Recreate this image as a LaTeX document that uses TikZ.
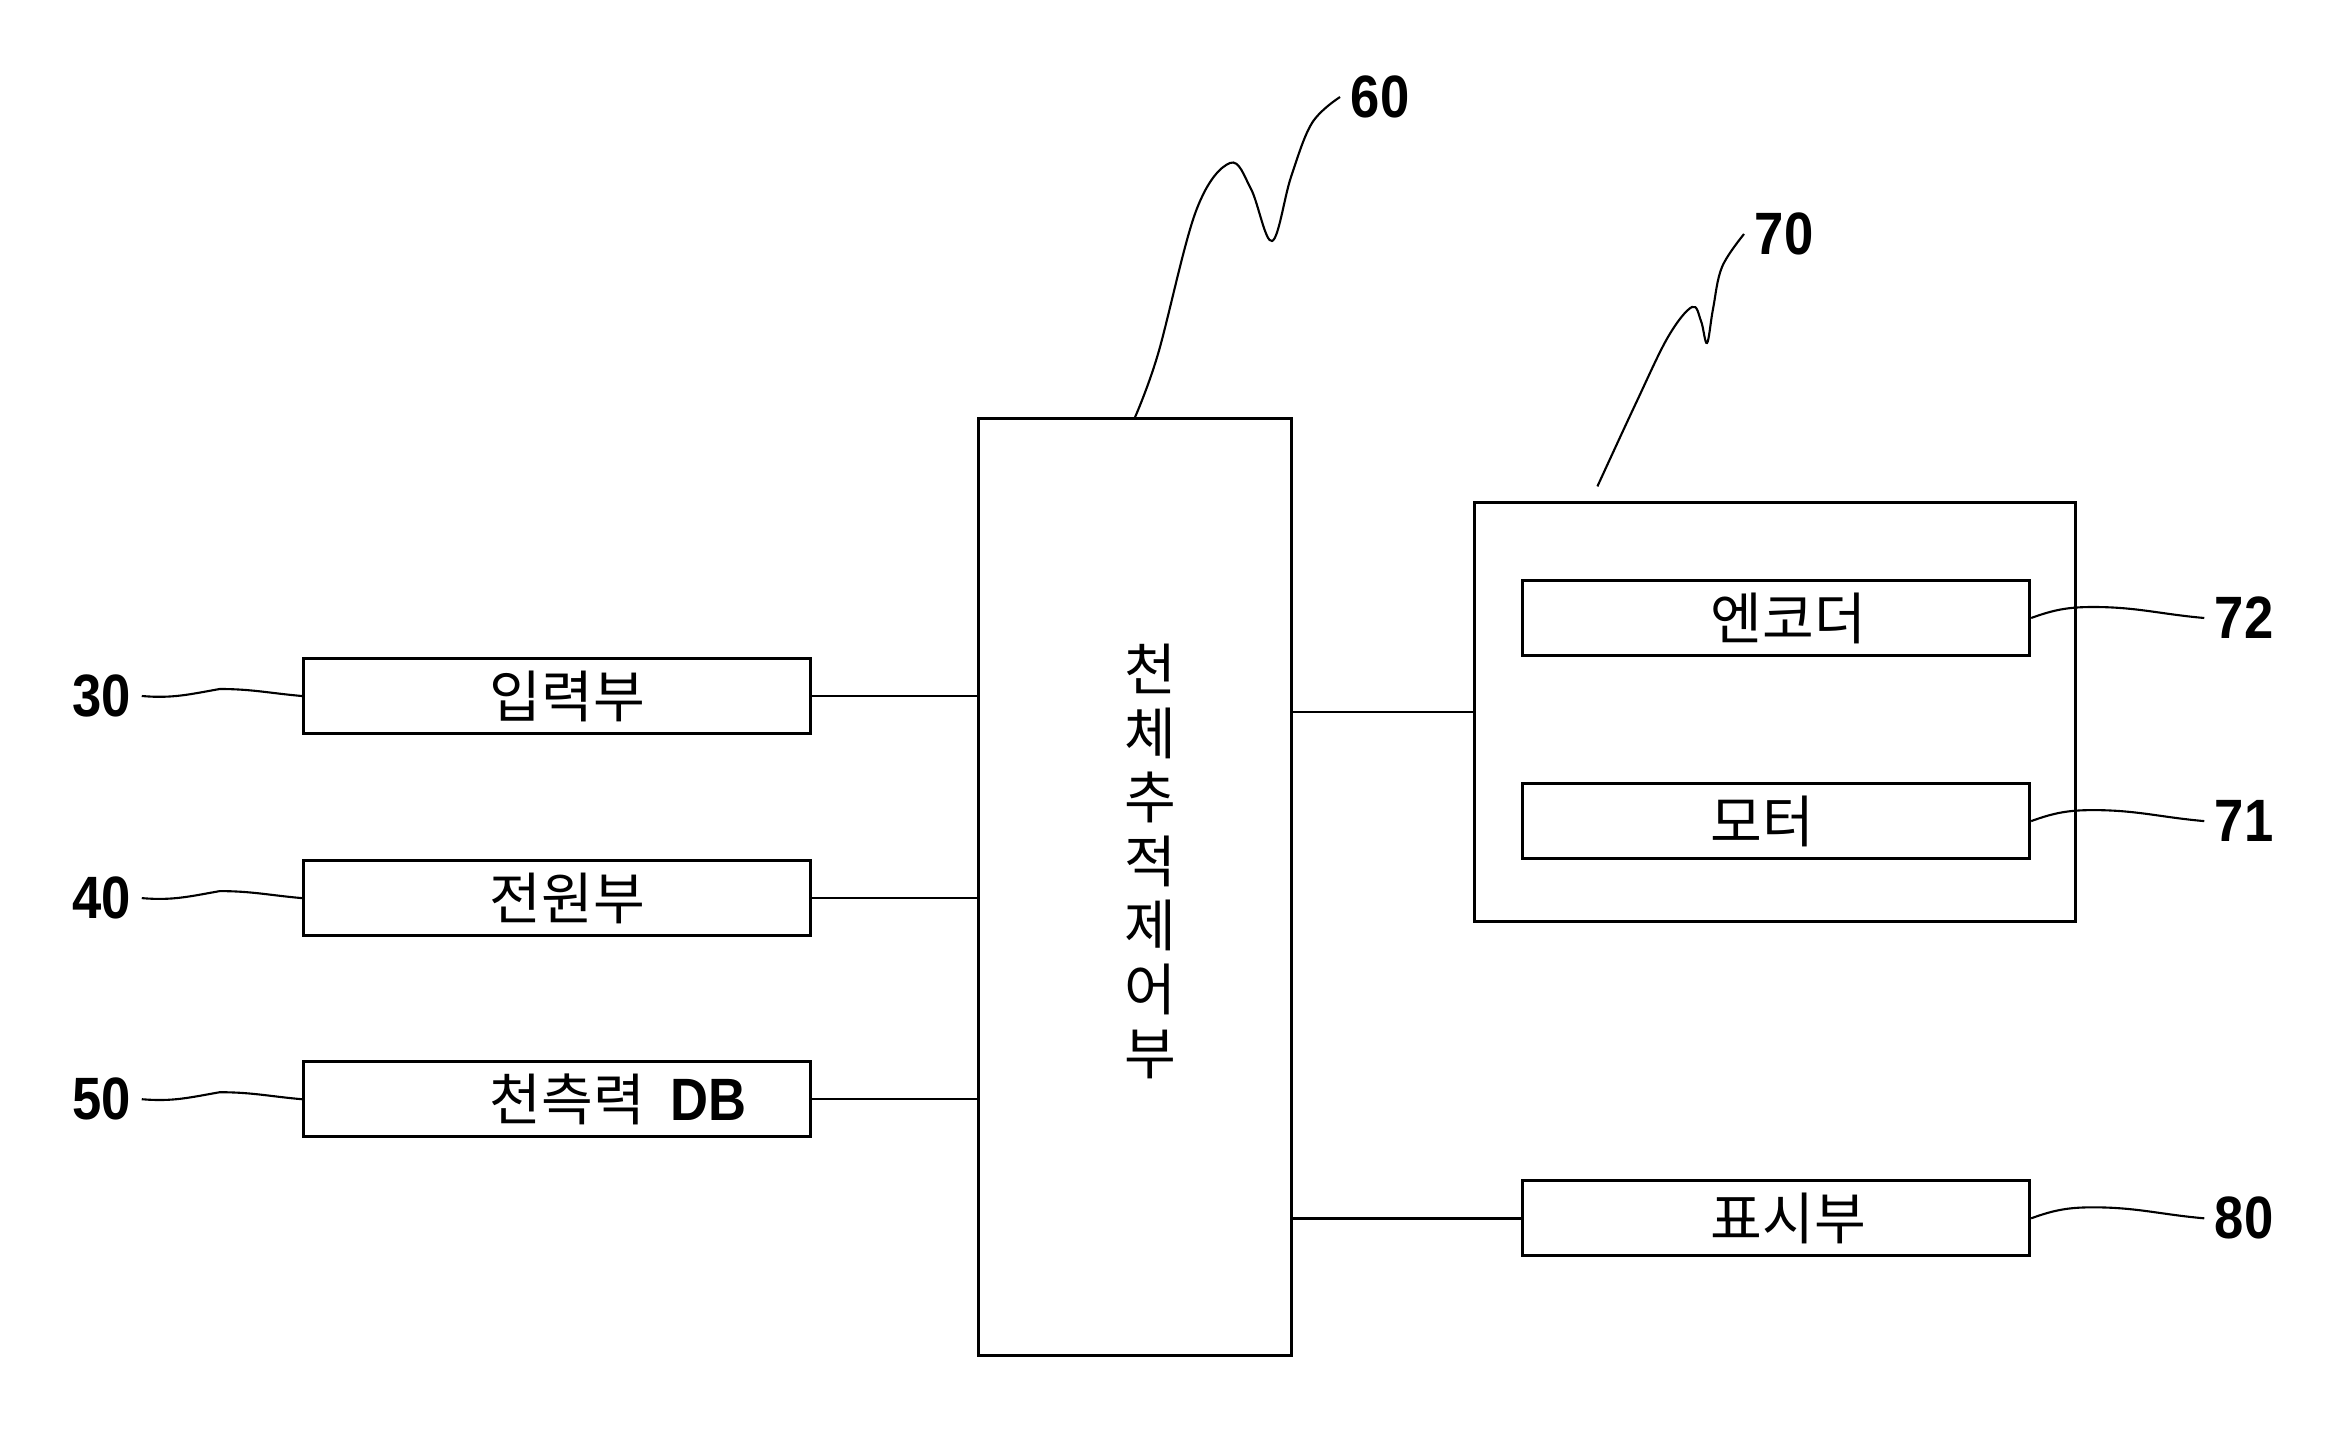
\documentclass[tikz,border=0pt]{standalone}
\usepackage{fontspec}
\setmainfont{Liberation Sans}
\newfontfamily\kr{Noto Sans CJK KR}
\newfontfamily\numfont{Liberation Sans Bold}[FakeStretch=0.88]
\usepackage{tikz}
\usetikzlibrary{positioning}
\tikzstyle{block} = [draw, fill=white, rectangle, line width=0.85pt, inner sep=0pt, minimum width=5.07cm, minimum height=0.75cm]
\tikzstyle{num} = [inner ysep=1pt, inner xsep=0.1cm, font=\fontsize{17}{20}\selectfont\numfont]
\tikzstyle{txt} = [inner sep=0pt, anchor=west, font=\fontsize{16}{18}\selectfont\kr]
\tikzstyle{lead} = [line width=0.6pt]
\tikzstyle{conn} = [line width=0.7pt]

\begin{document}
\begin{tikzpicture}[x=0.01cm, y=0.01cm]
  \useasboundingbox (0,0) rectangle (2348,1429);
  % control unit
  \node[block, minimum width=3.12cm, minimum height=9.36cm] (ctrl) at (1135,542) {};
  \node[font=\fontsize{16}{18.2}\selectfont\kr, align=center, inner sep=0pt] (tctrl) at (1150,568)
    {천\\체\\추\\적\\제\\어\\부};
  % left units
  \node[block] (input) at (557,733) {};
  \node[block, below=1.24cm of input] (power) {};
  \node[block, below=1.23cm of power] (tdb) {};
  \node[txt] (tinput) at ([xshift=1.87cm]input.west) {입력부};
  \node[txt] (tpower) at ([xshift=1.87cm]power.west) {전원부};
  \node[txt] (ttdb) at ([xshift=1.87cm]tdb.west) {천측력\hspace{0.45em}{\numfont\fontsize{17}{20}\selectfont DB}};
  % drive unit
  \node[block, minimum width=6cm, minimum height=4.18cm] (drive) at (1775,717) {};
  \node[block] (enc) at (1776,811) {};
  \node[block, below=1.25cm of enc] (motor) {};
  \node[block, below=3.19cm of motor] (disp) {};
  \node[txt] (tenc) at ([xshift=1.89cm]enc.west) {엔코더};
  \node[txt] (tmotor) at ([xshift=1.89cm]motor.west) {모터};
  \node[txt] (tdisp) at ([xshift=1.89cm]disp.west) {표시부};
  % reference numbers
  \node[num, left=1.6cm of input] (l30) {30};
  \node[num, left=1.6cm of power] (l40) {40};
  \node[num, left=1.6cm of tdb] (l50) {50};
  \node[num, right=1.73cm of enc] (l72) {72};
  \node[num, right=1.73cm of motor] (l71) {71};
  \node[num, right=1.73cm of disp] (l80) {80};
  \node[num] (l60) at (1380,1332) {60};
  \node[num] (l70) at (1784,1195) {70};
  \coordinate (s70) at ([xshift=1.24cm, yshift=0.15cm]drive.north west);
  % connectors
  \foreach \b in {input, power, tdb}
    \draw[conn] (\b.east) -- (\b.east -| ctrl.west);
  \draw[conn] (ctrl.east |- drive.west) -- (drive.west);
  \draw[conn] (ctrl.east |- disp.west) -- (disp.west);
  % leaders
  \foreach \n/\b in {l30/input, l40/power, l50/tdb}
    \draw[lead] (\n.east) to[out=-5,in=190] ++(78,7) to[out=0,in=175] (\b.west);
  \foreach \b/\n in {enc/l72, motor/l71, disp/l80}
    \draw[lead] (\b.east) to[out=20,in=180] ++(62,11) to[out=0,in=175] (\n.west);
  \draw[lead] plot[smooth, tension=0.6] coordinates {(ctrl.north) (1158,1075) (1196,1218) (1230,1266)
    (1251,1240) (1272,1188) (1291,1252) (1312,1306) (l60.west)};
  \draw[lead] plot[smooth, tension=0.6] coordinates {(s70) (1636,1026) (1668,1092) (1692,1122)
    (1701,1108) (1707,1086) (1713,1120) (1722,1162) (l70.west)};
\end{tikzpicture}
\end{document}
